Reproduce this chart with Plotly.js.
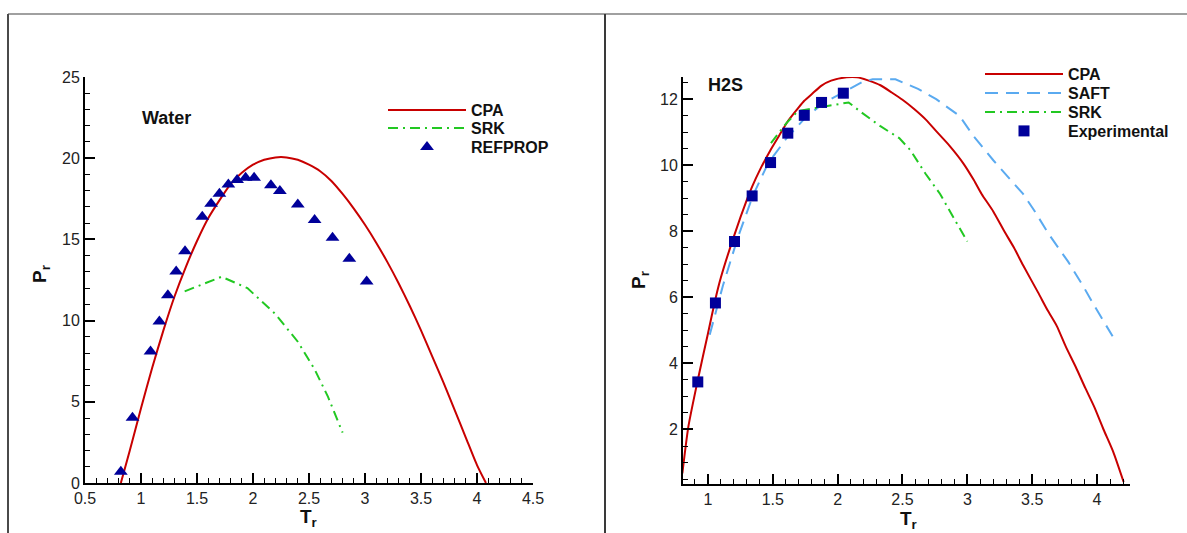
<!DOCTYPE html>
<html>
<head>
<meta charset="utf-8">
<script src="https://cdn.plot.ly/plotly-3.0.1.min.js"></script>
<style>
  html, body { margin: 0; padding: 0; background: #fff; }
  #wrap { position: relative; width: 1187px; height: 533px; overflow: hidden; }
  #chart { position: absolute; left: 0; top: 0; width: 1187px; height: 533px; }
  .frame { position: absolute; pointer-events: none; }
</style>
</head>
<body>
<div id="wrap">
  <div id="chart"></div>
  <div class="frame" style="left:8px; top:13px; width:1179px; height:2px; background:#a0a0a0;"></div>
  <div class="frame" style="left:7px; top:14px; width:2px; height:519px; background:#4a4a4a;"></div>
  <div class="frame" style="left:604px; top:14px; width:2px; height:519px; background:#3a3a3a;"></div>
</div>
<script>
// ---------- Water (left panel) ----------
const waterCpaT = [0.82, 0.9, 1.0, 1.1, 1.2, 1.3, 1.4, 1.5, 1.6, 1.7, 1.8, 1.9, 2.0, 2.1, 2.2, 2.3, 2.4, 2.5, 2.6, 2.7, 2.8, 2.9, 3.0, 3.1, 3.2, 3.3, 3.4, 3.5, 3.6, 3.7, 3.8, 3.9, 4.0, 4.08];
const waterCpaP = [0.0, 2.0, 4.6, 7.1, 9.4, 11.5, 13.3, 14.9, 16.3, 17.4, 18.4, 19.1, 19.6, 19.9, 20.05, 20.05, 19.9, 19.6, 19.2, 18.6, 17.8, 16.9, 15.9, 14.8, 13.6, 12.3, 10.9, 9.4, 7.8, 6.2, 4.5, 2.8, 1.1, 0.0];

const waterSrkT = [1.39, 1.72, 1.95, 2.2, 2.4, 2.55, 2.67, 2.8];
const waterSrkP = [11.8, 12.7, 12.0, 10.4, 8.7, 7.0, 5.3, 3.1];

const waterRefT = [0.82, 0.924, 1.085, 1.164, 1.24, 1.314, 1.393, 1.547, 1.626, 1.70, 1.78, 1.858, 1.934, 2.01, 2.16, 2.24, 2.40, 2.55, 2.71, 2.86, 3.015];
const waterRefP = [0.69, 4.02, 8.1, 9.94, 11.56, 13.02, 14.27, 16.4, 17.19, 17.81, 18.38, 18.65, 18.8, 18.8, 18.33, 17.98, 17.15, 16.19, 15.1, 13.81, 12.4];

// ---------- H2S (right panel) ----------
const h2sCpaT = [0.803, 0.85, 0.922, 1.0, 1.058, 1.1, 1.205, 1.3, 1.341, 1.4, 1.483, 1.55, 1.616, 1.7, 1.743, 1.8, 1.876, 1.95, 2.07, 2.15, 2.24, 2.33, 2.417, 2.5, 2.59, 2.68, 2.76, 2.86, 2.97, 3.05, 3.11, 3.2, 3.285, 3.36, 3.43, 3.545, 3.62, 3.69, 3.76, 3.835, 3.91, 3.98, 4.05, 4.124, 4.205];
const h2sCpaP = [0.67, 2.1, 3.5, 4.9, 5.95, 6.6, 7.9, 8.95, 9.35, 9.85, 10.46, 10.9, 11.33, 11.75, 11.95, 12.15, 12.41, 12.56, 12.66, 12.66, 12.56, 12.42, 12.2, 11.98, 11.7, 11.38, 11.03, 10.6, 10.05, 9.55, 9.13, 8.6, 8.0, 7.5, 6.97, 6.15, 5.6, 5.13, 4.5, 3.9, 3.25, 2.67, 2.0, 1.33, 0.41];

const h2sSaftT = [1.014, 1.116, 1.23, 1.347, 1.463, 1.607, 1.752, 1.897, 2.04, 2.186, 2.27, 2.446, 2.62, 2.76, 2.94, 3.05, 3.2, 3.34, 3.43, 3.517, 3.63, 3.777, 3.89, 3.98, 4.12];
const h2sSaftP = [4.87, 6.36, 7.8, 9.08, 10.05, 10.82, 11.44, 11.9, 12.2, 12.51, 12.6, 12.6, 12.31, 12.0, 11.49, 10.87, 10.15, 9.54, 9.13, 8.62, 7.9, 7.08, 6.36, 5.74, 4.82];

const h2sSrkT = [1.486, 1.607, 1.694, 1.839, 1.955, 2.085, 2.186, 2.33, 2.475, 2.56, 2.678, 2.79, 2.91, 3.0];
const h2sSrkP = [10.67, 11.28, 11.64, 11.74, 11.82, 11.9, 11.59, 11.18, 10.82, 10.46, 9.74, 9.13, 8.3, 7.69];

const h2sExpT = [0.922, 1.058, 1.205, 1.341, 1.483, 1.616, 1.743, 1.876, 2.044];
const h2sExpP = [3.44, 5.83, 7.69, 9.07, 10.08, 10.97, 11.51, 11.90, 12.18];

// ---------- styles ----------
const RED = '#c80000';
const GREEN = '#22c822';
const BLUE = '#5aaaf0';
const NAVY = '#00009a';
const FONT = 'Liberation Sans, Arial, sans-serif';
const W = 1187, H = 533;

const traces = [
  {x: waterCpaT, y: waterCpaP, xaxis: 'x', yaxis: 'y', mode: 'lines', name: 'CPA',
   line: {color: RED, width: 2, shape: 'spline', smoothing: 0.6}, legend: 'legend'},
  {x: waterSrkT, y: waterSrkP, xaxis: 'x', yaxis: 'y', mode: 'lines', name: 'SRK',
   line: {color: GREEN, width: 2, dash: '10px,5px,2px,5px'}, legend: 'legend2'},
  {x: waterRefT, y: waterRefP, xaxis: 'x', yaxis: 'y', mode: 'markers', name: 'REFPROP',
   marker: {symbol: 'triangle-up', size: 12, color: NAVY}, legend: 'legend3'},

  {x: h2sCpaT, y: h2sCpaP, xaxis: 'x2', yaxis: 'y2', mode: 'lines', name: 'CPA',
   line: {color: RED, width: 2, shape: 'spline', smoothing: 0.6}, legend: 'legend4'},
  {x: h2sSaftT, y: h2sSaftP, xaxis: 'x2', yaxis: 'y2', mode: 'lines', name: 'SAFT',
   line: {color: BLUE, width: 2, dash: '13px,8px'}, legend: 'legend5'},
  {x: h2sSrkT, y: h2sSrkP, xaxis: 'x2', yaxis: 'y2', mode: 'lines', name: 'SRK',
   line: {color: GREEN, width: 2, dash: '10px,5px,2px,5px'}, legend: 'legend6'},
  {x: h2sExpT, y: h2sExpP, xaxis: 'x2', yaxis: 'y2', mode: 'markers', name: 'Experimental',
   marker: {symbol: 'square', size: 11, color: NAVY}, legend: 'legend7'}
];

function xax(range, domain, anchor) {
  return {
    range: range, domain: domain, dtick: 0.5, tick0: 0, anchor: anchor,
    ticks: 'inside', ticklen: 10, tickwidth: 2, tickcolor: '#000',
    showline: true, linewidth: 2, linecolor: '#000', mirror: false,
    showgrid: false, zeroline: false,
    tickfont: {family: FONT, size: 16, color: '#222'},
    minor: {dtick: 0.1, ticks: 'inside', ticklen: 5, tickwidth: 1, tickcolor: '#000', showgrid: false}
  };
}
function yax(range, domain, dtick, mdtick, anchor) {
  return {
    range: range, domain: domain, dtick: dtick, tick0: 0, anchor: anchor,
    ticks: 'inside', ticklen: 10, tickwidth: 2, tickcolor: '#000',
    showline: true, linewidth: 2, linecolor: '#000',
    showgrid: false, zeroline: false,
    tickfont: {family: FONT, size: 16, color: '#222'},
    minor: {dtick: mdtick, ticks: 'inside', ticklen: 5, tickwidth: 1, tickcolor: '#000', showgrid: false}
  };
}

const legendFont = {family: FONT, size: 16, color: '#111', weight: 'bold'};
function leg(xLine, yRow) {
  return {x: (xLine - 5) / W, y: 1 - yRow / H, xanchor: 'left', yanchor: 'middle',
          bgcolor: 'rgba(0,0,0,0)', borderwidth: 0, font: legendFont, itemwidth: 78};
}
function ann(text, x, y, size, angle) {
  return {text: text, xref: 'paper', yref: 'paper', x: x / W, y: 1 - y / H,
          xanchor: 'center', yanchor: 'middle', showarrow: false, textangle: angle || 0,
          font: {family: FONT, size: size, color: '#111', weight: 'bold'}};
}

const layout = {
  width: W, height: H,
  margin: {l: 0, r: 0, t: 0, b: 0},
  paper_bgcolor: '#fff', plot_bgcolor: 'rgba(0,0,0,0)',
  showlegend: true,
  xaxis: xax([0.5, 4.5], [85 / W, 533 / W], 'y'),
  yaxis: yax([0, 25], [(H - 483) / H, (H - 77) / H], 5, 1, 'x'),
  xaxis2: xax([0.808, 4.254], [683 / W, 1130 / W], 'y2'),
  yaxis2: yax([0.35, 12.67], [(H - 484) / H, (H - 77) / H], 2, 0.5, 'x2'),
  legend: leg(388, 110),
  legend2: leg(388, 128),
  legend3: leg(388, 147),
  legend4: leg(985, 74),
  legend5: leg(985, 93),
  legend6: leg(985, 112),
  legend7: leg(985, 131),
  annotations: [
    {text: 'Water', xref: 'paper', yref: 'paper', x: 140 / W, y: 1 - 118 / H, xanchor: 'left', yanchor: 'middle',
     showarrow: false, font: {family: FONT, size: 18, color: '#111', weight: 'bold'}},
    {text: 'H2S', xref: 'paper', yref: 'paper', x: 706 / W, y: 1 - 85 / H, xanchor: 'left', yanchor: 'middle',
     showarrow: false, font: {family: FONT, size: 18, color: '#111', weight: 'bold'}},
    ann('T<sub>r</sub>', 309, 518, 19, 0),
    ann('P<sub>r</sub>', 41, 274, 19, -90),
    ann('T<sub>r</sub>', 908, 520, 19, 0),
    ann('P<sub>r</sub>', 640, 280, 19, -90)
  ]
};

Plotly.newPlot('chart', traces, layout, {staticPlot: true, displayModeBar: false});
</script>
</body>
</html>
